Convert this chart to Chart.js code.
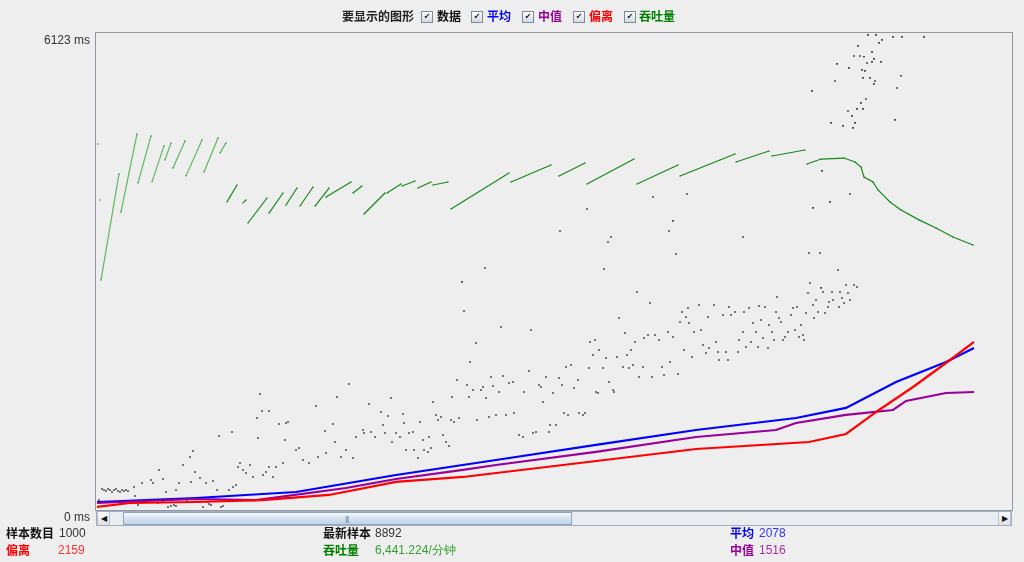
<!DOCTYPE html>
<html>
<head>
<meta charset="utf-8">
<script src="https://cdn.jsdelivr.net/npm/chart.js@4"></script>
<style>
body{margin:0;background:#eeeeee;width:1024px;height:562px;overflow:hidden;position:relative;font-family:"Liberation Sans",Arial,sans-serif;}
#wrap{position:absolute;left:0;top:0;width:1024px;height:562px;}
.t{position:absolute;font-size:12px;line-height:14px;white-space:nowrap;}
.cn{font-family:"Noto Sans CJK SC",sans-serif;font-weight:bold;}
.cb{position:absolute;top:11px;width:10px;height:10px;border:1px solid #7b8a9c;background:linear-gradient(#ffffff,#d3dae3);font-size:8px;line-height:10px;text-align:center;color:#1a1a1a;font-family:"DejaVu Sans",sans-serif;}
#sb{position:absolute;left:96px;top:511px;width:916px;height:15px;background:#e9edf2;border:1px solid #a3afbd;box-sizing:border-box;}
.arrow{position:absolute;top:512px;width:13px;height:13px;background:linear-gradient(#fafafa,#dde2e8);border-left:1px solid #b8c2cd;border-right:1px solid #b8c2cd;box-sizing:border-box;font-size:8px;line-height:13px;text-align:center;color:#111;}
#thumb{position:absolute;left:123px;top:512px;width:449px;height:13px;background:linear-gradient(#f4f8fc,#d2dfee 60%,#c3d3e7);border:1px solid #8ba6c6;box-sizing:border-box;}
#grip{position:absolute;left:345px;top:515px;font-size:8px;line-height:8px;color:#6a86a8;letter-spacing:-1px;}
</style>
</head>
<body>
<div id="wrap"><canvas id="graph" width="1024" height="562"></canvas></div>

<div class="t cn" style="left:342px;top:9px;color:#222">要显示的图形</div>
<div class="cb" style="left:421px">✔</div><div class="t cn" style="left:437px;top:9px;color:#111">数据</div>
<div class="cb" style="left:471px">✔</div><div class="t cn" style="left:487px;top:9px;color:#0000ff">平均</div>
<div class="cb" style="left:522px">✔</div><div class="t cn" style="left:538px;top:9px;color:#990099">中值</div>
<div class="cb" style="left:573px">✔</div><div class="t cn" style="left:589px;top:9px;color:#ff0000">偏离</div>
<div class="cb" style="left:624px">✔</div><div class="t cn" style="left:639px;top:9px;color:#008000">吞吐量</div>

<div id="sb"></div>
<div class="arrow" style="left:97px">◀</div>
<div id="thumb"></div>
<div id="grip">|||</div>
<div class="arrow" style="left:998px">▶</div>

<div class="t cn" style="left:6px;top:526px;color:#111">样本数目</div>
<div class="t" style="left:59px;top:526px;color:#333">1000</div>
<div class="t cn" style="left:6px;top:543px;color:#ff0000">偏离</div>
<div class="t" style="left:58px;top:543px;color:#ff3333">2159</div>
<div class="t cn" style="left:323px;top:526px;color:#111">最新样本</div>
<div class="t" style="left:375px;top:526px;color:#333">8892</div>
<div class="t cn" style="left:323px;top:543px;color:#008000">吞吐量</div>
<div class="t" style="left:375px;top:543px;color:#33a033">6,441.224/分钟</div>
<div class="t cn" style="left:730px;top:526px;color:#0000ff">平均</div>
<div class="t" style="left:759px;top:526px;color:#3333ff">2078</div>
<div class="t cn" style="left:730px;top:543px;color:#990099">中值</div>
<div class="t" style="left:759px;top:543px;color:#a033a0">1516</div>

<script>
// sample index, response time in ms
const yTicks = [0, 6123];
const sampleCount = 916;

const samples = [
  [3,128],[4,90],[6,270],[8,257],[10,244],[12,270],[14,257],[16,231],[18,257],[20,270],[22,244],[24,231],[26,257],[28,244],[30,257],[32,244],
  [27,90],[29,103],[39,180],[42,64],[46,90],[62,90],[67,103],[72,39],[75,51],[78,64],[80,51],[91,115],[107,39],[111,103],[113,77],[115,64],[125,39],[127,51],
  [38,295],[55,385],[57,347],[63,514],[67,398],[46,347],[70,231],[80,257],[83,347],[87,578],[94,681],[97,758],[95,360],[99,488],[104,411],[110,347],[117,372],
  [123,950],[121,257],[136,1002],[133,257],[137,295],[140,321],[142,552],[144,603],[147,514],[150,475],[154,578],[157,424],[161,1181],[162,924],[164,1489],
  [166,1271],[173,1271],[167,449],[170,488],[173,552],[177,424],[180,552],[183,1104],[187,603],[190,1117],[192,1130],[189,899],[200,770],[203,796],[207,642],
  [213,603],[220,1335],[222,681],[229,1014],[230,732],[237,1104],[239,873],[241,1451],[245,681],[250,770],[253,1618],[257,668],[260,937],[267,1027],[268,989],
  [273,1361],[275,1002],[279,937],[285,1258],[287,1091],[289,989],[292,1207],[295,1438],[296,873],
  [300,989],[304,937],[307,1233],[308,1117],[310,770],[313,989],[317,1002],[318,770],[322,668],[324,1130],[327,899],[328,770],[332,745],[333,937],[335,796],
  [337,1387],[340,1220],[342,1156],[345,1194],[347,963],[350,873],[353,822],[355,1156],[356,1451],[358,1130],[361,1669],[363,1181],[366,2928],[368,2555],
  [371,1605],[373,1451],[374,1900],[377,1541],[380,2144],[381,1156],[385,1541],[387,1579],[389,3107],[390,1438],[393,1194],[395,1708],[397,1592],[400,1220],
  [403,1515],[405,2350],[407,1721],[410,1220],[413,1631],[417,1644],[418,1245],[423,963],[427,937],[428,1515],[433,1785],[435,2311],[437,989],[440,1002],
  [443,1605],[445,1579],[447,1387],[450,1708],[453,1002],[454,1091],[457,1502],[460,1091],[463,1695],[466,1605],[468,1245],[470,1836],[472,1220],[475,1862],
  [478,1566],[482,1669],[483,1245],[487,1220],[489,1245],[493,1823],[494,2157],[497,1990],[499,2183],[500,1515],[502,1502],[503,2054],[507,1823],[508,3094],
  [510,1952],[513,1644],[517,1541],[518,1515],[521,1965],[523,2465],[527,1836],[529,2273],[531,1990],[533,1823],[535,2054],[537,1862],[539,2157],[541,2799],
  [543,1708],[547,1836],[548,2208],[552,2247],[554,2658],[556,1708],[559,2247],[563,2183],[566,1836],[568,1733],[572,2286],[574,1900],[577,2221],[580,3287],
  [582,1746],[584,2414],[586,2542],[588,2054],[590,2478],[592,2594],[593,2401],[596,1965],[598,2286],
  [603,2632],[605,2311],[607,2118],[610,2016],[612,2478],[613,2080],[618,2632],[620,2157],[622,2029],[623,1926],[627,2504],[630,2029],[632,1926],[633,2607],
  [635,2504],[639,2542],[642,2029],[643,2183],[647,2286],[648,2542],[650,2093],[653,2594],[655,2157],[657,2401],[660,2286],[662,2093],[663,2619],[665,2440],
  [667,2208],[669,2607],[672,2080],[673,2375],[676,2286],[678,2183],[680,2542],[681,2735],[683,2465],[685,2414],[687,2183],[689,2221],[692,2286],[695,2504],
  [697,2594],[699,2311],[701,2607],[703,2221],[705,2375],[707,2247],[708,2183],[710,2530],[712,2786],[714,2915],[717,2632],[718,2465],[720,2696],[722,2542],
  [724,3300],[725,2851],[727,2799],[729,2530],[732,2607],[733,2671],[736,2799],[737,2696],[742,3082],[743,2607],[744,2799],[746,2722],[748,2658],[750,2889],
  [752,2786],[754,2696],[758,2889],[761,2863],
  [726,4353],[557,4019],[591,4057],[754,4057],[734,3955],[717,3878],[491,3865],[577,3711],[573,3582],[464,3582],[515,3505],[512,3441],[647,3505],[713,3300],
  [772,6099],[780,6099],[786,6035],[797,6073],[806,6073],[828,6073],[762,5958],[783,5996],[776,5881],[758,5829],[764,5829],[768,5817],[778,5791],[741,5727],
  [771,5739],[776,5752],[785,5752],[753,5675],[766,5650],[769,5637],[805,5573],[739,5508],[767,5547],[774,5547],[779,5508],[778,5470],[716,5380],[801,5418],
  [770,5277],[765,5226],[752,5123],[761,5149],[767,5149],[756,5059],[799,5008],[735,4969],[759,4969],[747,4931],[757,4905]
];

const averageLine = [[1,103],[100,154],[200,231],[300,449],[400,642],[500,835],[600,1027],[700,1181],[750,1310],[800,1644],[850,1900],[878,2080]];
const medianLine = [[1,90],[100,141],[160,128],[250,282],[300,398],[367,514],[400,578],[500,745],[600,937],[680,1027],[700,1117],[750,1220],[797,1284],[810,1400],[850,1502],[878,1515]];
const deviationLine = [[1,39],[34,90],[100,103],[166,128],[233,193],[300,360],[367,424],[467,578],[567,732],[600,783],[713,873],[750,976],[783,1284],[817,1579],[850,1887],[878,2157]];

const throughputSegments = [
  [[2,4699]],[[4,3980]],
  [[5,2953],[23,4314]],[[25,3826],[41,4828]],[[42,4199],[55,4802]],[[56,4212],[68,4674]],[[69,4494],[75,4712]],
  [[77,4391],[89,4738]],[[90,4289],[106,4751]],[[108,4340],[122,4776]],[[124,4584],[130,4712]],
  [[131,3955],[141,4172]],[[147,3942],[150,3980]],[[152,3684],[171,4005]],[[173,3812],[187,4069]],[[190,3915],[201,4133]],
  [[204,3902],[217,4146]],[[219,3902],[233,4133]],[[230,4018],[255,4210]],[[257,4069],[266,4159]],[[268,3800],[289,4069]],
  [[291,4069],[305,4184]],[[306,4159],[319,4223]],[[322,4133],[335,4210]],[[337,4172],[352,4210]],[[355,3865],[413,4326]],
  [[415,4210],[455,4429]],[[463,4288],[489,4455]],[[491,4185],[538,4506]],[[541,4185],[582,4429]],[[584,4288],[639,4570]],
  [[640,4467],[673,4608]],[[676,4544],[709,4621]],
  [[711,4441],[725,4505],[748,4518],[759,4467],[765,4403],[768,4274],[777,4210],[782,4108],[794,3954],[805,3851],[823,3724],[840,3620],[857,3505],[877,3402]]
];

function toPoints(list) {
  return list.map(p => ({x: p[0], y: p[1]}));
}

function segmentsToPoints(segs) {
  const out = [];
  segs.forEach(seg => {
    seg.forEach(p => out.push({x: p[0], y: p[1]}));
    out.push({x: seg[seg.length - 1][0], y: null});
  });
  return out;
}

const plotBorder = {
  id: 'plotBorder',
  afterDraw(chart) {
    const a = chart.chartArea;
    const ctx = chart.ctx;
    ctx.save();
    ctx.strokeStyle = '#8f98a3';
    ctx.lineWidth = 1;
    ctx.strokeRect(a.left - 0.5, a.top - 0.5, a.right - a.left + 1, a.bottom - a.top + 1);
    ctx.restore();
  }
};

const lineStyle = {showLine: true, pointRadius: 0, borderWidth: 2.2, tension: 0, fill: false};

new Chart(document.getElementById('graph'), {
  type: 'scatter',
  data: {
    datasets: [
      Object.assign({label: '偏离', data: toPoints(deviationLine), borderColor: '#ff0000'}, lineStyle),
      Object.assign({label: '中值', data: toPoints(medianLine), borderColor: '#990099'}, lineStyle),
      Object.assign({label: '平均', data: toPoints(averageLine), borderColor: '#0000ff'}, lineStyle),
      {label: '吞吐量', data: segmentsToPoints(throughputSegments), showLine: true, spanGaps: false, borderColor: '#168a16',
       borderWidth: 1.2, pointRadius: 0.7, pointBackgroundColor: '#168a16', pointBorderWidth: 0, tension: 0,
       segment: {borderColor: c => c.p0.parsed.x < 131 ? '#5fb85f' : '#168a16'}},
      {label: '数据', data: toPoints(samples), pointStyle: 'rect', pointRadius: 1.1, backgroundColor: '#1e1e1e', borderWidth: 0}
    ]
  },
  options: {
    responsive: false,
    animation: false,
    layout: {padding: {left: 0, top: 33, right: 12, bottom: 52}},
    plugins: {legend: {display: false}, tooltip: {enabled: false}},
    scales: {
      x: {type: 'linear', min: 0, max: sampleCount, display: false},
      y: {
        min: yTicks[0], max: yTicks[1],
        afterBuildTicks(s) { s.ticks = yTicks.map(v => ({value: v})); },
        afterFit(s) { s.width = 96; },
        grid: {display: false, drawTicks: false},
        border: {display: false},
        ticks: {
          padding: 6, labelOffset: 8, color: '#333',
          font: {family: '"Liberation Sans", Arial, sans-serif', size: 12},
          callback: v => v + ' ms'
        }
      }
    }
  },
  plugins: [plotBorder]
});
</script>
</body>
</html>
